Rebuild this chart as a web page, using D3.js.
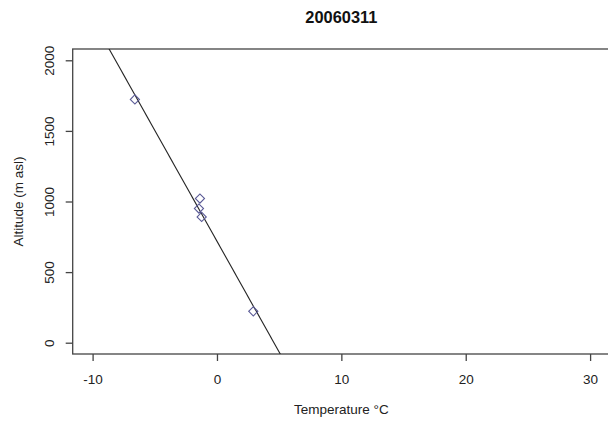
<!DOCTYPE html>
<html>
<head>
<meta charset="utf-8">
<script src="https://cdn.jsdelivr.net/npm/d3@7"></script>
<style>
  body { margin: 0; background: #fff; }
  svg { font-family: "Liberation Sans", Arial, sans-serif; }
  .tick text { fill: #222; }
</style>
</head>
<body>
<svg id="chart"></svg>
<script>
// values
var title = "20060311";
var temperature = [-6.6, -1.37, -1.45, -1.23, 2.92];
var altitude = [1723, 1021, 950, 891, 222];
var xTicks = [-10, 0, 10, 20, 30];
var yTicks = [0, 500, 1000, 1500, 2000];
var xLabel = "Temperature °C";
var yLabel = "Altitude (m asl)";

var width = 608;
var height = 423;
var margin = { left: 72.7, right: -2, top: 49, bottom: 69 };

var points = temperature.map((t, i) => ({ t: t, alt: altitude[i] }));

// least squares fit alt ~ t (the abline in the original)
var meanT = d3.mean(temperature);
var meanA = d3.mean(altitude);
var sxy = d3.sum(points, p => (p.t - meanT) * (p.alt - meanA));
var sxx = d3.sum(points, p => (p.t - meanT) * (p.t - meanT));
var slope = sxy / sxx;
var intercept = meanA - slope * meanT;

// R style 4% padding on the limits
var xDomain = [-10, 30], yDomain = [0, 2000];
var xPad = (xDomain[1] - xDomain[0]) * 0.04;
var yPad = (yDomain[1] - yDomain[0]) * 0.04;

var xScale = d3.scaleLinear()
  .domain([xDomain[0] - xPad, xDomain[1] + xPad])
  .range([margin.left, width - margin.right]);

var yScale = d3.scaleLinear()
  .domain([yDomain[0] - yPad, yDomain[1] + yPad])
  .range([height - margin.bottom, margin.top]);

var svg = d3.select("#chart")
  .attr("width", width)
  .attr("height", height);

svg.append("defs").append("clipPath")
  .attr("id", "plot-clip")
  .append("rect")
  .attr("x", xScale.range()[0])
  .attr("y", yScale.range()[1])
  .attr("width", xScale.range()[1] - xScale.range()[0])
  .attr("height", yScale.range()[0] - yScale.range()[1]);

// box
svg.append("rect")
  .attr("x", xScale.range()[0])
  .attr("y", yScale.range()[1])
  .attr("width", xScale.range()[1] - xScale.range()[0])
  .attr("height", yScale.range()[0] - yScale.range()[1])
  .attr("fill", "none")
  .attr("stroke", "#444")
  .attr("stroke-width", 1.3);

// plain hyphen minus like R, not the unicode minus
var plainNumber = d => String(d);

var xAxis = d3.axisBottom(xScale)
  .tickValues(xTicks)
  .tickSize(7)
  .tickPadding(13)
  .tickFormat(plainNumber);

svg.append("g")
  .attr("transform", `translate(0, ${yScale.range()[0]})`)
  .call(xAxis)
  .call(g => g.select(".domain").remove())
  .call(g => g.selectAll("line").attr("stroke", "#444").attr("stroke-width", 1.3))
  .attr("font-family", "")
  .attr("font-size", 13.5);

var yAxis = d3.axisLeft(yScale)
  .tickValues(yTicks)
  .tickSize(7)
  .tickFormat(plainNumber);

svg.append("g")
  .attr("transform", `translate(${xScale.range()[0]}, 0)`)
  .call(yAxis)
  .call(g => g.select(".domain").remove())
  .call(g => g.selectAll("line").attr("stroke", "#444").attr("stroke-width", 1.3))
  .attr("font-family", "")
  .attr("font-size", 13.5)
  .selectAll("text")
  .attr("x", 0)
  .attr("dy", 0)
  .style("text-anchor", "middle")
  .attr("transform", "translate(-18.7, 0) rotate(-90)");

// fitted line, clipped to the plot region
var line = d3.line()
  .x(d => xScale(d))
  .y(d => yScale(intercept + slope * d));

svg.append("path")
  .datum(xScale.domain())
  .attr("clip-path", "url(#plot-clip)")
  .attr("fill", "none")
  .attr("stroke", "#222")
  .attr("stroke-width", 1.1)
  .attr("d", line);

svg.append("g")
  .selectAll("path")
  .data(points)
  .join("path")
  .attr("transform", p => `translate(${xScale(p.t)}, ${yScale(p.alt)}) rotate(45)`)
  .attr("d", d3.symbol(d3.symbolSquare, 42))
  .attr("fill", "none")
  .attr("stroke", "#5a5a96")
  .attr("stroke-width", 1.1);

var plotMidX = (xScale.range()[0] + xScale.range()[1]) / 2;
var plotMidY = (yScale.range()[0] + yScale.range()[1]) / 2;

svg.append("text")
  .attr("x", plotMidX)
  .attr("y", 23)
  .attr("text-anchor", "middle")
  .attr("font-weight", "bold")
  .attr("font-size", 16.4)
  .attr("fill", "#111")
  .text(title);

svg.append("text")
  .attr("x", plotMidX)
  .attr("y", 414)
  .attr("text-anchor", "middle")
  .attr("font-size", 13.5)
  .attr("fill", "#222")
  .text(xLabel);

svg.append("text")
  .attr("transform", `translate(23, ${plotMidY}) rotate(-90)`)
  .attr("text-anchor", "middle")
  .attr("font-size", 13.5)
  .attr("fill", "#222")
  .text(yLabel);
</script>
</body>
</html>
